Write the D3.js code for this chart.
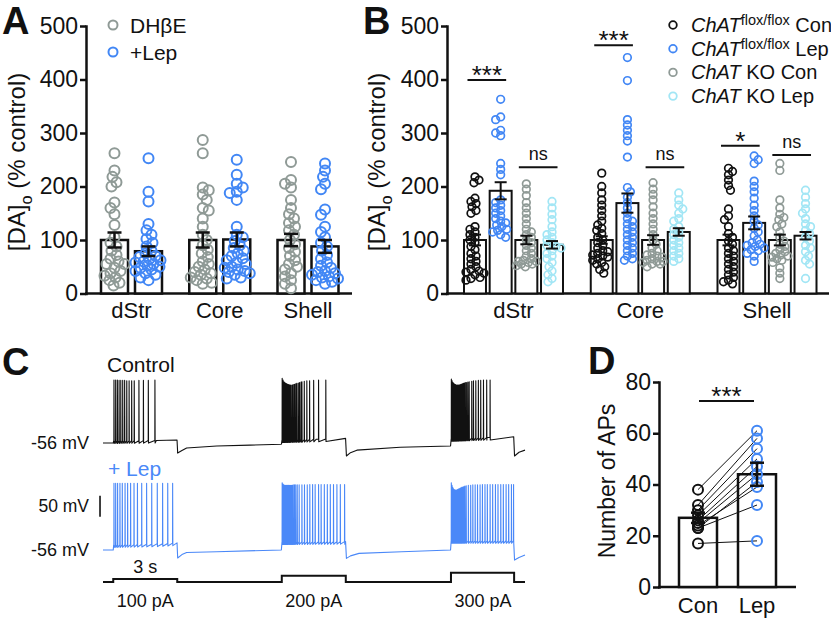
<!DOCTYPE html>
<html><head><meta charset="utf-8">
<script src="https://cdn.jsdelivr.net/npm/d3@7"></script>
<style>body{margin:0;background:#fff}svg{display:block}</style>
</head><body><svg id="c" width="831" height="619"></svg>
<script>
// ---------------- DATA ----------------
const catsA = ["dStr", "Core", "Shell"];
const seriesA = ["DHβE", "+Lep"];
const aDstrCon = [262,230,218,208,200,170,160,148,128,105,95,88,80,72,65,60,55,48,42,38,33,30,25,20,15,55];
const aDstrLep = [253,190,172,130,118,110,102,95,88,80,75,70,68,65,62,60,58,55,52,50,48,45,42,38,35,30,25];
const aCoreCon = [287,262,198,193,185,175,160,155,140,125,110,100,90,82,75,68,60,55,50,45,40,35,30,25,20,18,28,38];
const aCoreLep = [250,222,205,198,190,188,175,125,110,105,98,90,85,80,75,70,66,62,58,55,50,45,40,35,28,30,38,42,48];
const aShellCon = [246,212,205,198,175,160,148,140,132,125,118,110,100,92,85,78,70,62,55,50,45,38,32,25,18,10];
const aShellLep = [243,230,218,205,195,157,147,125,115,105,95,88,80,72,65,58,52,48,42,38,32,28,22,18,30,35,40,25];
const meansA = [[100, 79], [100, 101], [100, 88]];
const semA = [[14, 9], [14, 13], [11.5, 12]];

const catsB = ["dStr", "Core", "Shell"];
const seriesB = ["flox Con", "flox Lep", "KO Con", "KO Lep"];
const bDstrFloxCon = [218,212,207,178,172,168,162,155,150,125,120,115,110,105,100,95,88,82,75,70,65,60,55,50,45,40,35,28,25,30,38,42];
const bDstrFloxLep = [363,330,325,305,300,295,243,232,222,175,170,165,160,155,150,145,140,135,132,128,125,120,118,115,110,105];
const bDstrKoCon = [205,195,183,170,160,150,140,130,120,115,110,105,100,95,90,85,80,75,70,65,60,58,55,52,60,62,55,50];
const bDstrKoLep = [172,160,148,138,125,115,110,105,100,95,90,88,85,80,75,70,65,58,50,42,35,28,22];
const bCoreFloxCon = [225,200,188,175,165,155,145,135,128,122,118,112,105,100,95,90,85,80,78,75,72,70,68,65,62,58,55,50,45,38];
const bCoreFloxLep = [441,398,325,315,305,295,285,255,198,190,180,170,160,150,140,135,130,125,120,115,110,100,90,80,70,62,75,85,95,105,65];
const bCoreKoCon = [207,195,185,175,162,150,140,130,120,110,100,92,85,80,75,72,70,68,65,62,60,58,55,50,55,60];
const bCoreKoLep = [188,175,165,158,150,140,135,125,120,115,110,105,100,95,90,85,80,75,70,65,60];
const bShellFloxCon = [234,228,222,212,202,193,158,145,138,125,112,105,98,92,85,80,75,70,65,60,55,50,45,40,35,30,25,22,18];
const bShellFloxLep = [257,250,243,210,200,190,178,165,155,145,135,128,122,115,108,100,95,90,85,80,75,70,60,82,88,92];
const bShellKoCon = [243,230,175,160,148,142,138,130,125,115,105,98,92,88,82,78,72,68,62,58,48,38,28,70,75,65];
const bShellKoLep = [193,180,168,158,150,140,130,125,118,112,105,98,90,85,78,70,62,55,28];
const meansB = [[100, 192, 100, 91], [100, 169, 100, 115], [100, 132, 100, 108]];
const semB = [[10, 16, 8, 7], [7, 18, 9, 7], [10, 12, 10, 7]];
const sigB = [
  {group: "dStr", a: 0, b: 1, y: 399, label: "***"},
  {group: "dStr", a: 2, b: 3, y: 236, label: "ns"},
  {group: "Core", a: 0, b: 1, y: 464, label: "***"},
  {group: "Core", a: 2, b: 3, y: 236, label: "ns"},
  {group: "Shell", a: 0, b: 1, y: 276, label: "*"},
  {group: "Shell", a: 2, b: 3, y: 259, label: "ns"}
];
const legendB = [
  {gene: "ChAT", sup: "flox/flox", rest: " Con"},
  {gene: "ChAT", sup: "flox/flox", rest: " Lep"},
  {gene: "ChAT", sup: "", rest: " KO Con"},
  {gene: "ChAT", sup: "", rest: " KO Lep"}
];

// Panel C: current-clamp traces
const stepOnsets = [0.48, 8.38, 16.31];     // s
const stepEnds = [3.48, 11.38, 19.27];      // s
const stepCurrents = [100, 200, 300];       // pA
const traceEnd = 19.78;
const ctrlEnvelope = [[0,-56],[0.48,-56],[0.5,-51],[2.5,-50],[3.47,-49],[3.5,-80],[3.7,-74],[3.92,-68],[5.33,-63],[6.89,-61],[8.36,-59],[8.39,-49],[10,-47],[11.37,-45],[11.41,-87],[11.6,-79],[11.9,-73],[13.93,-66],[16.29,-63],[16.32,-46],[18,-43],[19.25,-41],[19.29,-87],[19.5,-78],[19.78,-73]];
const lepEnvelope = [[0,-56],[0.48,-56],[0.5,-44],[2.5,-42],[3.47,-39],[3.5,-75],[3.7,-67],[3.92,-62],[5.33,-60],[8.36,-56],[8.39,-37],[11.37,-36],[11.41,-76],[11.6,-70],[12.0,-64],[14,-60],[16.29,-56],[16.32,-34],[19.25,-34],[19.29,-80],[19.5,-74],[19.78,-68]];
const ctrlSpikeTimes = [
  [0.03,0.11,0.19,0.27,0.35,0.44,0.53,0.63,0.74,0.86,0.98,1.2,1.41,1.64,1.95],
  [0.014,0.056,0.098,0.14,0.19,0.23,0.28,0.33,0.375,0.42,0.48,0.53,0.59,0.65,0.70,0.77,0.83,0.9,0.94,1.05,1.17,1.3,1.49,1.72,2.06],
  [0.014,0.05,0.09,0.13,0.17,0.21,0.25,0.29,0.33,0.37,0.42,0.47,0.52,0.57,0.62,0.67,0.73,0.79,0.85,0.97,1.05,1.16,1.28,1.39,1.52,1.67,1.83]
];
const ctrlSpikePeaks = [
  [94,94,94,93,93,93,93,92,92,92,92,93,93,93,94],
  [98,94,90,88,86,85,84,83,82,82,82,83,84,85,86,87,88,89,90,91,92,92,93,94,94],
  [96,92,88,86,84,83,82,82,82,82,83,84,85,86,87,88,88,89,90,91,92,92,93,93,94,94,94]
];
const lepSpikeTimes = [
  [0.03,0.11,0.2,0.31,0.42,0.55,0.67,0.81,0.97,1.13,1.33,1.56,1.8,2.06,2.31,2.55,2.78],
  [0.014,0.05,0.09,0.13,0.17,0.21,0.25,0.29,0.33,0.38,0.43,0.48,0.53,0.59,0.65,0.72,0.81,0.94,1.06,1.19,1.31,1.44,1.56,1.72,1.84,1.99,2.13,2.27,2.42,2.58,2.74,2.94],
  [0.012,0.045,0.08,0.115,0.15,0.185,0.22,0.26,0.3,0.34,0.38,0.42,0.46,0.5,0.55,0.6,0.65,0.71,0.81,0.92,1.02,1.13,1.24,1.36,1.47,1.59,1.7,1.83,1.95,2.08,2.2,2.33,2.45,2.58,2.7,2.83,2.93]
];
const lepSpikePeaks = [
  [103,103,103,103,103,103,103,103,103,103,103,103,103,103,103,103,103],
  [104,101,99,98,98,98,98,98,98,98,98,98,99,99,99,99,99,99,99,99,100,100,100,100,100,100,100,100,100,100,100,100],
  [104,98,93,90,88,87,87,87,88,89,90,91,92,93,94,95,96,97,98,98,99,99,99,99,100,100,100,100,100,100,100,100,100,100,100,100,100]
];

// Panel D
const catsD = ["Con", "Lep"];
const dCon = [38, 32, 30, 28, 26, 25, 23, 24, 23, 17];
const dLep = [61, 58, 54, 50, 47, 44, 41, 39, 32, 18];
const meansD = [27, 44];
const semD = [2, 4.5];

// ---------------- STYLE ----------------
const FONT = "'Liberation Sans', Arial, Helvetica, sans-serif";
const INK = "#111";
const GRAY = "#8f9a96", BLUE = "#4287f5", CYAN = "#a2e6f5", TRACEBLUE = "#4a88f8";

const svg = d3.select("#c").attr("font-family", FONT);

function panelLetter(t, x, y) {
  svg.append("text").attr("x", x).attr("y", y).attr("font-size", 38).attr("font-weight", "bold")
    .attr("fill", INK).text(t);
}
function yAxis(scale, x, ticks, fs, sw) {
  const g = svg.append("g").attr("transform", `translate(${x},0)`)
    .call(d3.axisLeft(scale).tickValues(ticks).tickSize(6).tickSizeOuter(0).tickPadding(2));
  g.attr("font-family", FONT).attr("font-size", fs);
  g.select(".domain").attr("stroke", INK).attr("stroke-width", sw).attr("stroke-linecap", "square");
  g.selectAll(".tick line").attr("stroke", INK).attr("stroke-width", sw);
  g.selectAll(".tick text").attr("fill", INK);
  return g;
}
function swarm(vals, ys, minD, maxOff) {
  const idx = vals.map((v, i) => i).sort((a, b) => vals[b] - vals[a]);
  const placed = [], off = new Array(vals.length);
  idx.forEach((i, k) => {
    const y = ys(vals[i]);
    let best = 0, bestD = -1;
    const sgn = k % 2 ? -1 : 1;
    for (let s = 0; s <= maxOff * 2; s++) {
      const o = sgn * (s % 2 ? -1 : 1) * Math.ceil(s / 2);
      let d = Infinity;
      for (const p of placed) d = Math.min(d, Math.hypot(p[0] - o, p[1] - y));
      if (d >= minD) { best = o; bestD = d; break; }
      if (d > bestD) { bestD = d; best = o; }
    }
    placed.push([best, y]); off[i] = best;
  });
  return off;
}
function yTitle(x, y, fs) {
  const t = svg.append("text").attr("transform", `translate(${x},${y}) rotate(-90)`)
    .attr("text-anchor", "middle").attr("font-size", fs).attr("fill", INK);
  t.append("tspan").text("[DA]");
  t.append("tspan").attr("font-size", fs * 0.68).attr("dy", fs * 0.28).text("o");
  t.append("tspan").attr("dy", -fs * 0.28).text(" (% control)");
}

function barPanel(cfg) {
  const {cats, series, data, means, sems, colors, y, gx, band, r, sw, minD, maxOff, barSW, capW, ebSW} = cfg;
  cats.forEach((c, gi) => series.forEach((s, si) => {
    const cx = gx(c) + band(s) + band.bandwidth() / 2;
    svg.append("rect").attr("x", cx - band.bandwidth() / 2).attr("y", y(means[gi][si]))
      .attr("width", band.bandwidth()).attr("height", y(0) - y(means[gi][si]))
      .attr("fill", "#fff").attr("stroke", INK).attr("stroke-width", barSW);
  }));
  cats.forEach((c, gi) => series.forEach((s, si) => {
    const cx = gx(c) + band(s) + band.bandwidth() / 2;
    const vals = data[gi][si];
    const off = swarm(vals, y, minD, maxOff);
    svg.append("g").selectAll("circle").data(vals).join("circle")
      .attr("cx", (d, i) => cx + off[i]).attr("cy", d => y(d)).attr("r", r)
      .attr("fill", "none").attr("stroke", colors[si]).attr("stroke-width", sw);
  }));
  cats.forEach((c, gi) => series.forEach((s, si) => {
    const cx = gx(c) + band(s) + band.bandwidth() / 2;
    const m = means[gi][si], e = sems[gi][si];
    const g = svg.append("g").attr("stroke", INK).attr("stroke-width", ebSW);
    g.append("line").attr("x1", cx).attr("x2", cx).attr("y1", y(m + e)).attr("y2", y(m - e));
    g.append("line").attr("x1", cx - capW / 2).attr("x2", cx + capW / 2).attr("y1", y(m + e)).attr("y2", y(m + e));
    g.append("line").attr("x1", cx - capW / 2).attr("x2", cx + capW / 2).attr("y1", y(m - e)).attr("y2", y(m - e));
  }));
}

// ---------------- PANEL A ----------------
const yA = d3.scaleLinear().domain([0, 500]).range([293.5, 26]);
const gA = d3.scalePoint().domain(catsA).range([131.5, 308]);
const bA = d3.scaleBand().domain(seriesA).range([-30.5, 30.5]).paddingInner(0.206);
panelLetter("A", 2, 34);
yAxis(yA, 86, [0, 100, 200, 300, 400, 500], 23, 2.5);
svg.append("line").attr("x1", 85).attr("x2", 352).attr("y1", yA(0)).attr("y2", yA(0))
  .attr("stroke", INK).attr("stroke-width", 2.5);
yTitle(25, 162, 24);
barPanel({cats: catsA, series: seriesA,
  data: [[aDstrCon, aDstrLep], [aCoreCon, aCoreLep], [aShellCon, aShellLep]],
  means: meansA, sems: semA, colors: [GRAY, BLUE], y: yA, gx: gA, band: bA,
  r: 5, sw: 2, minD: 6.5, maxOff: 13, barSW: 2.5, capW: 14, ebSW: 2.5});
svg.append("g").selectAll("text").data(catsA).join("text")
  .attr("x", d => gA(d)).attr("y", 318).attr("text-anchor", "middle").attr("font-size", 22).attr("fill", INK).text(d => d);
seriesA.forEach((s, i) => {
  svg.append("circle").attr("cx", 113).attr("cy", 25 + i * 27).attr("r", 4.5)
    .attr("fill", "none").attr("stroke", [GRAY, BLUE][i]).attr("stroke-width", 2);
  svg.append("text").attr("x", 130).attr("y", 25 + i * 27 + 7.5).attr("font-size", 21).attr("fill", INK).text(s);
});

// ---------------- PANEL B ----------------
const yB = d3.scaleLinear().domain([0, 500]).range([293.5, 26]);
const gB = d3.scalePoint().domain(catsB).range([513.5, 767]);
const bB = d3.scaleBand().domain(seriesB).range([-49.5, 49.5]).paddingInner(0.144);
panelLetter("B", 363, 34);
yAxis(yB, 447, [0, 100, 200, 300, 400, 500], 23, 2.5);
svg.append("line").attr("x1", 446).attr("x2", 829).attr("y1", yB(0)).attr("y2", yB(0))
  .attr("stroke", INK).attr("stroke-width", 2.5);
yTitle(385, 162, 24);
const colorsB = [INK, BLUE, GRAY, CYAN];
barPanel({cats: catsB, series: seriesB,
  data: [[bDstrFloxCon, bDstrFloxLep, bDstrKoCon, bDstrKoLep],
         [bCoreFloxCon, bCoreFloxLep, bCoreKoCon, bCoreKoLep],
         [bShellFloxCon, bShellFloxLep, bShellKoCon, bShellKoLep]],
  means: meansB, sems: semB, colors: colorsB, y: yB, gx: gB, band: bB,
  r: 3.8, sw: 1.7, minD: 5, maxOff: 10, barSW: 2, capW: 12, ebSW: 2});
svg.append("g").selectAll("text").data(catsB).join("text")
  .attr("x", d => gB(d)).attr("y", 318).attr("text-anchor", "middle").attr("font-size", 22).attr("fill", INK).text(d => d);
sigB.forEach(s => {
  const x1 = gB(s.group) + bB(seriesB[s.a]) + bB.bandwidth() / 2 - 7.5;
  const x2 = gB(s.group) + bB(seriesB[s.b]) + bB.bandwidth() / 2 + 5.5;
  svg.append("line").attr("x1", x1).attr("x2", x2).attr("y1", yB(s.y)).attr("y2", yB(s.y))
    .attr("stroke", INK).attr("stroke-width", 2);
  const isStar = s.label.includes("*");
  svg.append("text").attr("x", (x1 + x2) / 2).attr("y", yB(s.y) + (isStar ? 4 : -7))
    .attr("text-anchor", "middle").attr("font-size", isStar ? 26 : 18).attr("fill", INK).text(s.label);
});
legendB.forEach((d, i) => {
  const cy = 25 + i * 23.7;
  svg.append("circle").attr("cx", 673).attr("cy", cy).attr("r", 3.8)
    .attr("fill", "none").attr("stroke", colorsB[i]).attr("stroke-width", 1.8);
  const t = svg.append("text").attr("x", 691).attr("y", cy + 7).attr("font-size", 20).attr("fill", INK);
  t.append("tspan").attr("font-style", "italic").text(d.gene);
  if (d.sup) {
    t.append("tspan").attr("font-size", 14.5).attr("dy", -7).text(d.sup);
    t.append("tspan").attr("dy", 7).text(d.rest);
  } else {
    t.append("tspan").text(d.rest);
  }
});

// ---------------- PANEL C ----------------
panelLetter("C", 2, 375);
const tScale = d3.scaleLinear().domain([0, traceEnd]).range([103, 525]);
const yCtrl = d3.scaleLinear().domain([-56, 44]).range([443, 401]);
const yLepT = d3.scaleLinear().domain([-56, 44]).range([550, 508]);
const yCmd = d3.scaleLinear().domain([0, 300]).range([582, 572.7]);

function tracePoints(env, spikeT, spikeP) {
  const envS = d3.scaleLinear().domain(env.map(d => d[0])).range(env.map(d => d[1]));
  const pts = env.map(d => [d[0], d[1]]);
  stepOnsets.forEach((on, i) => spikeT[i].forEach((st, j) => {
    const t = on + st, b = envS(t);
    pts.push([t, b], [t + 0.004, spikeP[i][j]], [t + 0.013, b - 6]);
  }));
  pts.sort((a, b) => a[0] - b[0]);
  return pts;
}
svg.append("path").attr("d", d3.line().x(d => tScale(d[0])).y(d => yCtrl(d[1]))(tracePoints(ctrlEnvelope, ctrlSpikeTimes, ctrlSpikePeaks)))
  .attr("fill", "none").attr("stroke", INK).attr("stroke-width", 1.1).attr("stroke-linejoin", "round");
svg.append("path").attr("d", d3.line().x(d => tScale(d[0])).y(d => yLepT(d[1]))(tracePoints(lepEnvelope, lepSpikeTimes, lepSpikePeaks)))
  .attr("fill", "none").attr("stroke", TRACEBLUE).attr("stroke-width", 1.1).attr("stroke-linejoin", "round");
const cmd = [[0, 0]];
stepOnsets.forEach((on, i) => { cmd.push([on, 0], [on, stepCurrents[i]], [stepEnds[i], stepCurrents[i]], [stepEnds[i], 0]); });
cmd.push([traceEnd, 0]);
svg.append("path").attr("d", d3.line().x(d => tScale(d[0])).y(d => yCmd(d[1]))(cmd))
  .attr("fill", "none").attr("stroke", INK).attr("stroke-width", 2);
svg.append("text").attr("x", 107).attr("y", 372).attr("font-size", 21).attr("fill", INK).text("Control");
svg.append("text").attr("x", 108).attr("y", 476).attr("font-size", 21).attr("fill", TRACEBLUE).text("+ Lep");
svg.append("text").attr("x", 89).attr("y", yCtrl(-56)).attr("dy", "0.35em").attr("text-anchor", "end").attr("font-size", 18).attr("fill", INK).text("-56 mV");
svg.append("text").attr("x", 89).attr("y", yLepT(-56)).attr("dy", "0.35em").attr("text-anchor", "end").attr("font-size", 18).attr("fill", INK).text("-56 mV");
svg.append("line").attr("x1", tScale(-0.14)).attr("x2", tScale(-0.14)).attr("y1", yLepT(23)).attr("y2", yLepT(73))
  .attr("stroke", INK).attr("stroke-width", 1.6);
svg.append("text").attr("x", 89).attr("y", (yLepT(23) + yLepT(73)) / 2).attr("dy", "0.35em").attr("text-anchor", "end").attr("font-size", 17.5).attr("fill", INK).text("50 mV");
svg.append("text").attr("x", tScale(stepOnsets[0] + 1.5)).attr("y", 573).attr("text-anchor", "middle").attr("font-size", 18).attr("fill", INK).text("3 s");
stepOnsets.forEach((on, i) => {
  svg.append("text").attr("x", tScale(on + 1.5)).attr("y", 607).attr("text-anchor", "middle").attr("font-size", 18).attr("fill", INK).text(stepCurrents[i] + " pA");
});

// ---------------- PANEL D ----------------
panelLetter("D", 588, 374);
const yD = d3.scaleLinear().domain([0, 80]).range([587, 382]);
const xD = d3.scalePoint().domain(catsD).range([698, 757]);
yAxis(yD, 659, [0, 20, 40, 60, 80], 23, 2.5);
svg.append("line").attr("x1", 658).attr("x2", 796).attr("y1", yD(0)).attr("y2", yD(0))
  .attr("stroke", INK).attr("stroke-width", 2.5);
svg.append("text").attr("transform", `translate(615,481) rotate(-90)`).attr("text-anchor", "middle")
  .attr("font-size", 23).attr("fill", INK).text("Number of APs");
const barWD = 38;
catsD.forEach((c, i) => {
  svg.append("rect").attr("x", xD(c) - barWD / 2).attr("y", yD(meansD[i])).attr("width", barWD)
    .attr("height", yD(0) - yD(meansD[i])).attr("fill", "#fff").attr("stroke", INK).attr("stroke-width", 2.5);
});
svg.append("g").selectAll("line").data(dCon).join("line")
  .attr("x1", xD("Con")).attr("x2", xD("Lep")).attr("y1", d => yD(d)).attr("y2", (d, i) => yD(dLep[i]))
  .attr("stroke", INK).attr("stroke-width", 1);
svg.append("g").selectAll("circle").data(dCon).join("circle")
  .attr("cx", xD("Con")).attr("cy", d => yD(d)).attr("r", 5).attr("fill", "none").attr("stroke", INK).attr("stroke-width", 2);
svg.append("g").selectAll("circle").data(dLep).join("circle")
  .attr("cx", xD("Lep")).attr("cy", d => yD(d)).attr("r", 5).attr("fill", "none").attr("stroke", BLUE).attr("stroke-width", 2);
catsD.forEach((c, i) => {
  const cx = xD(c), m = meansD[i], e = semD[i];
  const g = svg.append("g").attr("stroke", INK).attr("stroke-width", 2.5);
  g.append("line").attr("x1", cx).attr("x2", cx).attr("y1", yD(m + e)).attr("y2", yD(m - e));
  g.append("line").attr("x1", cx - 7).attr("x2", cx + 7).attr("y1", yD(m + e)).attr("y2", yD(m + e));
  g.append("line").attr("x1", cx - 7).attr("x2", cx + 7).attr("y1", yD(m - e)).attr("y2", yD(m - e));
});
const sigDy = 72.6;
svg.append("line").attr("x1", xD("Con") + 1).attr("x2", xD("Lep") - 3).attr("y1", yD(sigDy)).attr("y2", yD(sigDy))
  .attr("stroke", INK).attr("stroke-width", 2);
svg.append("text").attr("x", (xD("Con") + xD("Lep")) / 2 - 1).attr("y", yD(sigDy) + 4).attr("text-anchor", "middle")
  .attr("font-size", 26).attr("fill", INK).text("***");
svg.append("g").selectAll("text").data(catsD).join("text")
  .attr("x", d => xD(d)).attr("y", 613).attr("text-anchor", "middle").attr("font-size", 22).attr("fill", INK).text(d => d);
</script></body></html>
